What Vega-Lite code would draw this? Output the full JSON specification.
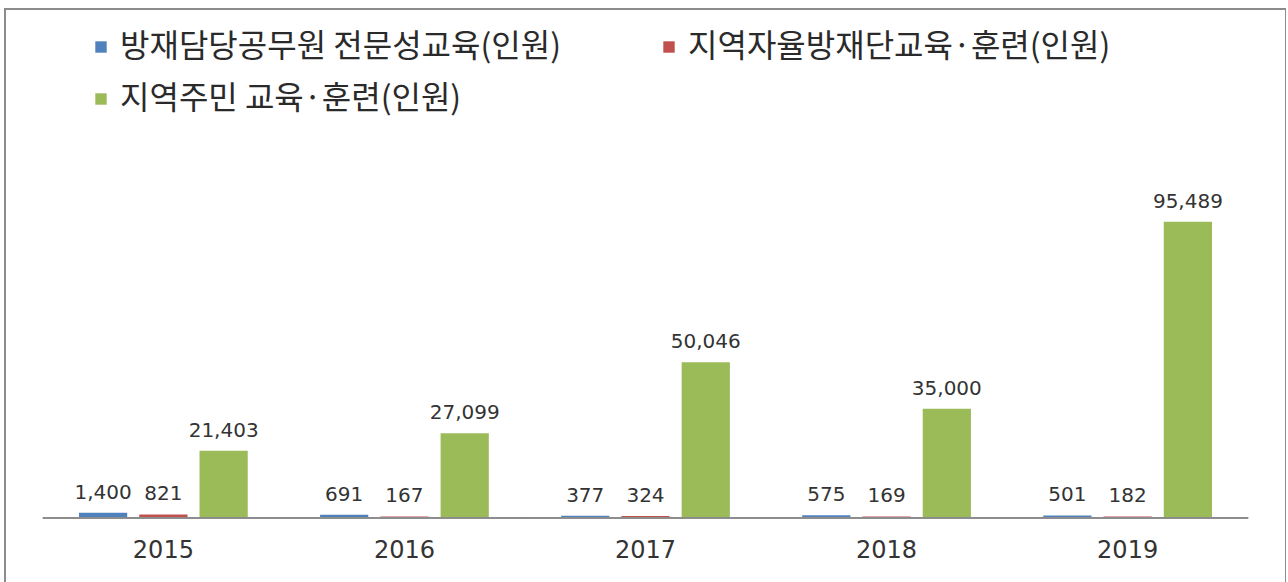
{
  "$schema": "https://vega.github.io/schema/vega-lite/v6.json",
  "width": 1281,
  "height": 590,
  "padding": {"left": 5, "top": 9, "right": 0, "bottom": 0},
  "background": "white",
  "config": {
    "font": "DejaVu Sans",
    "view": {"stroke": "#8c8c8c", "strokeWidth": 2}
  },
  "data": {
    "values": [
      {"year": "2015", "series": "방재담당공무원 전문성교육(인원)", "value": 1400},
      {"year": "2015", "series": "지역자율방재단교육·훈련(인원)", "value": 821},
      {"year": "2015", "series": "지역주민 교육·훈련(인원)", "value": 21403},
      {"year": "2016", "series": "방재담당공무원 전문성교육(인원)", "value": 691},
      {"year": "2016", "series": "지역자율방재단교육·훈련(인원)", "value": 167},
      {"year": "2016", "series": "지역주민 교육·훈련(인원)", "value": 27099},
      {"year": "2017", "series": "방재담당공무원 전문성교육(인원)", "value": 377},
      {"year": "2017", "series": "지역자율방재단교육·훈련(인원)", "value": 324},
      {"year": "2017", "series": "지역주민 교육·훈련(인원)", "value": 50046},
      {"year": "2018", "series": "방재담당공무원 전문성교육(인원)", "value": 575},
      {"year": "2018", "series": "지역자율방재단교육·훈련(인원)", "value": 169},
      {"year": "2018", "series": "지역주민 교육·훈련(인원)", "value": 35000},
      {"year": "2019", "series": "방재담당공무원 전문성교육(인원)", "value": 501},
      {"year": "2019", "series": "지역자율방재단교육·훈련(인원)", "value": 182},
      {"year": "2019", "series": "지역주민 교육·훈련(인원)", "value": 95489}
    ]
  },
  "encoding": {
    "x": {
      "field": "year",
      "type": "nominal",
      "scale": {"paddingInner": 0, "paddingOuter": 0.157},
      "axis": {
        "title": null,
        "orient": "bottom",
        "offset": -61,
        "domain": false,
        "ticks": false,
        "labelPadding": 0,
        "labelAngle": 0,
        "labelBaseline": "top",
        "labelFont": "DejaVu Sans",
        "labelFontSize": 24,
        "labelColor": "#333333"
      }
    }
  },
  "layer": [
    {
      "mark": {"type": "rect", "color": "#8c8c8c"},
      "encoding": {
        "y": {"datum": 0, "type": "quantitative", "scale": {"domain": [-26516, 164268], "nice": false, "zero": false}, "axis": null},
        "y2": {"datum": -600}
      }
    },
    {
      "mark": {"type": "bar"},
      "encoding": {
        "xOffset": {
          "field": "series",
          "type": "nominal",
          "sort": ["방재담당공무원 전문성교육(인원)", "지역자율방재단교육·훈련(인원)", "지역주민 교육·훈련(인원)"],
          "scale": {"paddingInner": 0.2, "paddingOuter": 0.6}
        },
        "y": {"field": "value", "type": "quantitative", "stack": null, "axis": null},
        "y2": {"datum": 0},
        "color": {
          "field": "series",
          "type": "nominal",
          "sort": ["방재담당공무원 전문성교육(인원)", "지역자율방재단교육·훈련(인원)", "지역주민 교육·훈련(인원)"],
          "scale": {"range": ["#4F81BD", "#C0504D", "#9BBB59"]},
          "legend": {
            "title": null,
            "orient": "none",
            "legendX": 80,
            "legendY": 22,
            "direction": "horizontal",
            "columns": 2,
            "columnPadding": 92,
            "rowPadding": 20,
            "symbolType": "square",
            "symbolSize": 130,
            "symbolStrokeWidth": 0,
            "symbolOffset": 0,
            "labelOffset": 3,
            "labelFont": "Noto Sans CJK KR",
            "labelFontSize": 32,
            "labelColor": "#2a2a2a",
            "labelLimit": 800
          }
        }
      }
    },
    {
      "mark": {"type": "text", "baseline": "alphabetic", "dy": -14, "fontSize": 20, "font": "DejaVu Sans", "color": "#333333"},
      "encoding": {
        "xOffset": {
          "field": "series",
          "type": "nominal",
          "sort": ["방재담당공무원 전문성교육(인원)", "지역자율방재단교육·훈련(인원)", "지역주민 교육·훈련(인원)"]
        },
        "y": {"field": "value", "type": "quantitative"},
        "text": {"field": "value", "type": "quantitative", "format": ","}
      }
    }
  ]
}
